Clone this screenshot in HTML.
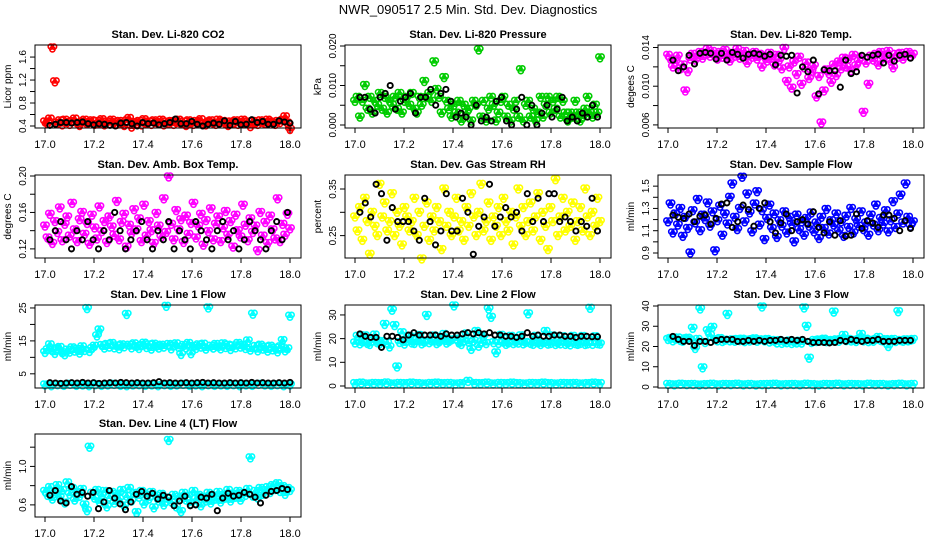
<!DOCTYPE html>
<html><head><meta charset="utf-8"><style>
body{margin:0;background:#fff;}
svg{display:block;font-family:"Liberation Sans",Arial,sans-serif;}
</style></head><body>
<svg id="chart" width="936" height="540" viewBox="0 0 936 540">
<rect x="0" y="0" width="936" height="540" fill="#fff"/>
<text x="468" y="14" text-anchor="middle" font-size="13">NWR_090517  2.5 Min. Std. Dev. Diagnostics</text>
</svg>
<script>
// ---- data ----
const xTicks = [17.0,17.2,17.4,17.6,17.8,18.0];
const xTickLabels = ["17.0","17.2","17.4","17.6","17.8","18.0"];

const co2Color = [0.47,0.44,0.52,1.76,1.17,0.45,0.49,0.42,0.50,0.46,0.43,0.48,0.52,0.45,0.41,0.47,0.50,0.44,0.46,0.49,0.43,0.48,0.45,0.51,0.42,0.47,0.44,0.50,0.46,0.43,0.48,0.45,0.41,0.49,0.53,0.38,0.46,0.44,0.48,0.42,0.51,0.45,0.47,0.43,0.49,0.46,0.44,0.50,0.42,0.47,0.45,0.48,0.43,0.46,0.50,0.44,0.47,0.41,0.49,0.45,0.43,0.48,0.46,0.51,0.44,0.42,0.47,0.49,0.45,0.43,0.50,0.46,0.48,0.44,0.41,0.47,0.45,0.49,0.43,0.46,0.50,0.44,0.47,0.39,0.48,0.45,0.43,0.49,0.46,0.44,0.50,0.47,0.45,0.43,0.48,0.46,0.50,0.56,0.45,0.34];
const co2Black = [0.41,0.43,0.46,0.46,0.45,0.46,0.47,0.44,0.42,0.44,0.43,0.41,0.40,0.45,0.46,0.44,0.40,0.46,0.44,0.45,0.42,0.44,0.46,0.52,0.44,0.44,0.48,0.43,0.40,0.43,0.45,0.43,0.49,0.41,0.48,0.42,0.43,0.51,0.46,0.48,0.43,0.43,0.49,0.47,0.45];

const presColor = [0.006,0.007,0.002,0.006,0.010,0.004,0.007,0.003,0.006,0.005,0.008,0.004,0.007,0.003,0.006,0.005,0.007,0.004,0.008,0.003,0.006,0.007,0.005,0.008,0.004,0.003,0.007,0.005,0.011,0.007,0.008,0.006,0.016,0.009,0.007,0.003,0.012,0.006,0.004,0.002,0.005,0.003,0.006,0.001,0.005,0.003,0.004,0.001,0.006,0.005,0.019,0.002,0.006,0.001,0.004,0.007,0.005,0.001,0.003,0.006,0.007,0.002,0.005,0.001,0.004,0.006,0.002,0.014,0.001,0.005,0.006,0.002,0.004,0.001,0.003,0.007,0.002,0.005,0.007,0.003,0.006,0.004,0.007,0.002,0.006,0.003,0.001,0.003,0.002,0.006,0.003,0.001,0.002,0.004,0.007,0.003,0.002,0.005,0.003,0.017];
const presBlack = [0.007,0.007,0.004,0.003,0.007,0.008,0.010,0.004,0.006,0.007,0.008,0.003,0.007,0.007,0.009,0.005,0.008,0.009,0.006,0.002,0.003,0.002,0.000,0.005,0.001,0.002,0.001,0.006,0.007,0.001,0.000,0.004,0.007,0.000,0.005,0.000,0.003,0.005,0.002,0.004,0.007,0.001,0.002,0.001,0.003,0.002,0.005,0.002];

const tempColor = [0.0132,0.0128,0.0120,0.0125,0.0131,0.0118,0.0122,0.0095,0.0115,0.0128,0.0133,0.0127,0.0130,0.0135,0.0129,0.0134,0.0138,0.0131,0.0136,0.0133,0.0128,0.0135,0.0130,0.0137,0.0132,0.0126,0.0134,0.0131,0.0138,0.0129,0.0133,0.0136,0.0124,0.0132,0.0130,0.0135,0.0128,0.0133,0.0120,0.0131,0.0126,0.0134,0.0129,0.0122,0.0132,0.0127,0.0118,0.0139,0.0105,0.0120,0.0098,0.0125,0.0112,0.0130,0.0102,0.0119,0.0124,0.0108,0.0115,0.0121,0.0089,0.0110,0.0062,0.0095,0.0117,0.0113,0.0104,0.0122,0.0111,0.0125,0.0118,0.0129,0.0120,0.0128,0.0116,0.0132,0.0121,0.0126,0.0130,0.0073,0.0124,0.0102,0.0131,0.0127,0.0133,0.0122,0.0135,0.0129,0.0132,0.0136,0.0126,0.0119,0.0133,0.0130,0.0134,0.0128,0.0132,0.0135,0.0131,0.0133];
const tempBlack = [0.0127,0.0116,0.0120,0.0132,0.0123,0.0134,0.0135,0.0134,0.0128,0.0134,0.0127,0.0135,0.0133,0.0129,0.0133,0.0134,0.0133,0.0131,0.0133,0.0122,0.0132,0.0131,0.0132,0.0093,0.0120,0.0115,0.0127,0.0092,0.0117,0.0116,0.0116,0.0099,0.0127,0.0113,0.0115,0.0132,0.0130,0.0132,0.0133,0.0124,0.0132,0.0126,0.0132,0.0133,0.0129];

const boxColor = [0.145,0.132,0.158,0.126,0.150,0.138,0.165,0.129,0.147,0.155,0.134,0.170,0.141,0.128,0.152,0.160,0.136,0.148,0.125,0.157,0.143,0.131,0.166,0.139,0.150,0.127,0.155,0.144,0.135,0.172,0.130,0.149,0.158,0.122,0.146,0.137,0.163,0.141,0.153,0.128,0.168,0.134,0.150,0.140,0.126,0.159,0.145,0.133,0.175,0.138,0.199,0.147,0.130,0.162,0.141,0.152,0.127,0.156,0.136,0.148,0.170,0.132,0.145,0.158,0.124,0.151,0.139,0.164,0.130,0.147,0.155,0.128,0.143,0.161,0.135,0.150,0.122,0.157,0.140,0.133,0.168,0.146,0.129,0.153,0.138,0.145,0.118,0.160,0.134,0.149,0.126,0.156,0.141,0.131,0.175,0.128,0.147,0.135,0.158,0.142];
const boxBlack = [0.13,0.14,0.15,0.13,0.12,0.14,0.13,0.15,0.13,0.12,0.14,0.13,0.16,0.14,0.12,0.13,0.14,0.15,0.13,0.12,0.14,0.13,0.15,0.12,0.14,0.13,0.12,0.15,0.14,0.13,0.12,0.14,0.15,0.13,0.14,0.12,0.13,0.15,0.14,0.13,0.12,0.14,0.15,0.13,0.16];

const rhColor = [0.29,0.26,0.31,0.24,0.33,0.28,0.21,0.30,0.27,0.25,0.36,0.29,0.32,0.26,0.28,0.34,0.25,0.30,0.27,0.23,0.31,0.29,0.26,0.28,0.33,0.25,0.30,0.20,0.27,0.32,0.24,0.29,0.26,0.31,0.28,0.22,0.35,0.27,0.30,0.25,0.29,0.33,0.26,0.28,0.24,0.31,0.27,0.34,0.29,0.25,0.30,0.36,0.26,0.28,0.32,0.24,0.29,0.27,0.31,0.25,0.33,0.28,0.26,0.30,0.23,0.29,0.35,0.27,0.31,0.25,0.28,0.32,0.26,0.29,0.34,0.24,0.30,0.27,0.22,0.31,0.28,0.37,0.25,0.29,0.33,0.26,0.30,0.27,0.32,0.24,0.28,0.31,0.26,0.35,0.29,0.25,0.30,0.27,0.33,0.28];
const rhBlack = [0.30,0.32,0.29,0.36,0.34,0.24,0.31,0.28,0.28,0.28,0.26,0.24,0.33,0.28,0.23,0.26,0.34,0.26,0.26,0.33,0.30,0.21,0.27,0.29,0.36,0.27,0.29,0.31,0.29,0.30,0.26,0.34,0.28,0.33,0.28,0.34,0.34,0.28,0.29,0.28,0.26,0.28,0.27,0.33,0.26];

const flowColor = [1.18,1.34,1.08,1.25,1.15,1.30,1.05,1.22,1.12,0.90,1.28,1.17,1.38,1.10,1.24,1.20,1.35,1.14,1.27,0.92,1.19,1.32,1.06,1.25,1.16,1.40,1.52,1.22,1.11,1.30,1.58,1.18,1.43,1.26,1.09,1.34,1.45,1.15,1.28,1.02,1.21,1.33,1.12,1.25,1.04,1.19,1.14,1.27,1.08,1.22,1.16,1.00,1.24,1.11,1.18,1.06,1.21,1.14,1.26,1.09,1.17,1.03,1.22,1.12,1.29,1.07,1.19,1.15,1.25,1.10,1.18,1.05,1.23,1.13,1.30,1.08,1.20,1.14,1.27,1.11,1.17,1.06,1.24,1.15,1.33,1.10,1.21,1.16,1.28,1.09,1.19,1.36,1.13,1.25,1.42,1.17,1.52,1.22,1.14,1.18];
const flowBlack = [1.24,1.22,1.21,1.25,1.18,1.23,1.24,1.16,1.21,1.34,1.35,1.13,1.18,1.33,1.29,1.14,1.30,1.35,1.18,1.08,1.17,1.25,1.10,1.18,1.20,1.16,1.27,1.13,1.08,1.18,1.06,1.19,1.05,1.06,1.25,1.12,1.19,1.17,1.13,1.24,1.24,1.21,1.10,1.19,1.12];

const line1Color = [11.5,12.3,13.8,12.0,11.2,12.6,13.0,11.4,10.8,12.2,11.6,12.9,11.9,12.4,11.3,13.2,12.1,24.8,11.8,12.7,13.4,16.5,18.3,13.6,12.8,13.9,13.1,14.2,12.9,13.5,12.6,13.8,13.2,23.0,13.7,12.9,14.1,13.3,12.7,13.6,14.3,13.0,13.8,12.5,14.0,13.4,12.8,13.7,13.1,25.5,13.9,12.6,13.5,14.1,13.0,10.9,13.6,12.9,14.2,11.1,13.3,12.7,13.8,13.1,14.0,12.5,25.0,13.4,12.8,13.9,13.2,12.6,14.1,13.0,13.7,12.4,13.5,12.9,14.2,13.1,13.6,12.7,15.0,12.2,23.1,13.3,12.0,13.7,12.5,13.1,11.9,13.4,12.3,12.8,11.7,13.2,15.1,12.0,12.6,22.5];
const line1Low = [1.6,1.4,1.7,1.5,1.8,1.5,1.6,1.4,1.7,1.5,1.6,1.8,1.5,1.4,1.6,1.7,1.5,1.6,1.4,1.7,1.5,1.6,1.8,1.5,1.6,1.4,1.7,1.5,1.6,1.5,1.7,1.4,1.6,1.5,1.8,1.6,1.5,1.7,1.4,1.6];
const line1Black = [2.3,2.2,2.1,2.2,2.3,2.2,2.4,2.2,2.3,2.1,2.2,2.3,2.2,2.4,2.3,2.2,2.3,2.2,2.2,2.3,2.6,2.2,2.3,2.2,2.2,2.3,2.2,2.3,2.4,2.2,2.3,2.2,2.2,2.3,2.2,2.3,2.2,2.4,2.2,2.3,2.2,2.2,2.3,2.2,2.4];

const line2Color = [18.2,21.0,17.8,18.6,21.2,18.0,17.5,19.0,21.5,18.3,17.9,18.8,26.0,18.1,16.5,32.0,25.5,8.0,18.4,22.5,17.7,18.9,21.0,18.2,18.0,19.2,21.3,17.8,18.5,29.8,18.3,19.0,21.1,17.9,18.6,19.4,21.8,18.1,18.8,19.5,33.8,19.8,18.2,17.5,19.1,22.0,18.4,15.5,19.0,23.0,16.8,18.6,21.0,17.9,32.5,29.0,18.3,14.0,18.0,21.4,18.5,17.6,18.2,21.0,17.9,18.6,18.1,21.2,17.8,18.4,30.5,18.0,17.6,21.0,18.2,17.5,18.3,23.0,17.7,18.0,21.1,17.5,18.2,17.8,20.8,17.6,18.1,17.4,21.0,17.9,17.6,18.0,20.9,17.5,17.8,32.8,17.6,20.8,17.9,17.7];
const line2Low = [1.0,1.2,0.9,1.1,1.0,1.3,0.9,1.1,1.0,1.2,1.0,0.9,1.1,1.2,1.0,1.1,0.9,1.0,2.0,1.1,1.0,1.2,0.9,1.1,1.0,1.2,1.0,0.9,1.1,1.0,1.2,1.0,0.9,1.1,1.0,1.1,0.9,1.0,1.2,1.0];
const line2Black = [22.0,21.0,20.5,20.5,16.3,21.0,21.0,20.5,19.5,21.5,22.5,21.5,21.5,21.5,21.5,21.0,22.0,21.5,21.5,22.0,22.5,22.0,22.5,22.0,22.5,21.5,21.5,21.0,21.0,20.5,21.0,22.5,21.0,21.5,21.0,21.0,21.5,21.5,21.0,21.0,20.5,21.0,21.0,20.8,20.8];

const line3Color = [23.5,24.0,22.8,23.6,24.2,23.0,22.6,23.8,24.1,23.2,29.0,19.0,23.5,38.5,9.5,22.0,27.8,25.5,29.5,23.4,22.8,23.9,22.5,23.1,35.8,22.8,23.3,22.6,23.5,22.9,23.6,22.4,23.2,22.7,23.4,23.8,22.6,23.3,39.5,22.8,23.5,22.2,23.0,22.6,21.8,22.9,21.6,22.4,21.9,22.7,21.5,22.3,21.8,22.6,21.7,39.0,30.0,14.2,22.0,23.0,22.5,23.2,22.8,23.6,22.4,23.0,22.7,37.0,23.3,22.6,23.4,25.5,22.9,23.5,22.7,23.1,22.5,23.4,26.0,22.8,23.6,22.4,23.1,22.6,23.5,24.5,23.0,22.7,23.4,20.0,22.9,23.5,22.5,37.2,23.0,22.6,23.3,22.8,23.1,23.5];
const line3Low = [1.3,1.1,1.4,1.2,1.3,1.0,1.2,1.4,1.1,1.3,1.2,1.4,1.1,1.3,1.0,1.2,1.3,1.4,1.1,1.2,1.3,1.1,1.4,1.2,1.0,1.3,1.2,1.4,1.1,1.3,1.2,1.1,1.4,1.2,1.3,1.0,1.2,1.4,1.1,1.3];
const line3Black = [25.0,23.5,22.5,22.5,20.5,22.5,22.5,22.0,23.0,23.5,23.5,23.5,22.5,22.5,23.0,22.5,23.0,22.5,23.0,23.0,23.5,23.0,23.5,23.0,23.5,22.5,22.0,22.0,22.0,21.8,22.0,23.0,22.5,23.5,23.0,22.5,23.0,23.0,23.5,22.5,22.5,22.5,23.0,23.0,23.0];

const line4Color = [0.74,0.70,0.78,0.66,0.72,0.80,0.68,0.75,0.62,0.83,0.71,0.77,0.65,0.73,0.69,0.76,0.60,0.54,1.20,0.72,0.67,0.75,0.63,0.70,0.74,0.58,0.68,0.73,0.62,0.71,0.66,0.75,0.59,0.69,0.77,0.64,0.72,0.52,0.68,0.74,0.61,0.70,0.66,0.73,0.57,0.69,0.64,0.71,0.60,0.67,1.27,0.63,0.70,0.58,0.68,0.53,0.72,0.65,0.69,0.61,0.74,0.66,0.70,0.59,0.68,0.64,0.72,0.62,0.69,0.66,0.73,0.63,0.70,0.67,0.75,0.64,0.71,0.68,0.74,0.65,0.72,0.70,0.76,1.09,0.69,0.74,0.67,0.77,0.71,0.75,0.78,0.73,0.80,0.76,0.82,0.74,0.79,0.71,0.77,0.75];
const line4Black = [0.70,0.75,0.64,0.62,0.79,0.71,0.73,0.69,0.73,0.56,0.63,0.75,0.67,0.61,0.55,0.63,0.71,0.74,0.69,0.72,0.66,0.70,0.68,0.59,0.64,0.69,0.59,0.60,0.68,0.67,0.71,0.54,0.67,0.72,0.69,0.70,0.73,0.71,0.68,0.62,0.70,0.74,0.75,0.77,0.76];

// ---- layout ----
const colX0 = [45,355,668];
const rowTop = [45,175,305,434];
const UNIT = 245, BOXH = 83;
const panels = [
 {id:'co2',col:0,row:0,title:'Stan. Dev. Li-820 CO2',ylab:'Licor ppm',lo:0.365,hi:1.81,ticks:[0.4,0.6,0.8,1.0,1.2,1.4,1.6],labels:[[0.4,'0.4'],[0.8,'0.8'],[1.2,'1.2'],[1.6,'1.6']],series:[{v:co2Color,c:'#ff0000',x0:17.0,x1:18.0,dense:1},{v:co2Black,c:'#000',x0:17.02,x1:18.0}]},
 {id:'pressure',col:1,row:0,title:'Stan. Dev. Li-820 Pressure',ylab:'kPa',lo:-0.00076,hi:0.02025,ticks:[0,0.005,0.01,0.015,0.02],labels:[[0,'0.000'],[0.01,'0.010'],[0.02,'0.020']],series:[{v:presColor,c:'#00cc00',x0:17.0,x1:18.0,dense:1},{v:presBlack,c:'#000',x0:17.02,x1:17.99}]},
 {id:'temp',col:2,row:0,title:'Stan. Dev. Li-820 Temp.',ylab:'degees C',lo:0.00568,hi:0.01426,ticks:[0.006,0.008,0.010,0.012,0.014],labels:[[0.006,'0.006'],[0.010,'0.010'],[0.014,'0.014']],series:[{v:tempColor,c:'#ff00ff',x0:17.0,x1:18.0,dense:1},{v:tempBlack,c:'#000',x0:17.02,x1:17.99}]},
 {id:'boxtemp',col:0,row:1,title:'Stan. Dev. Amb. Box Temp.',ylab:'degrees C',lo:0.11,hi:0.2011,ticks:[0.12,0.14,0.16,0.18,0.20],labels:[[0.12,'0.12'],[0.16,'0.16'],[0.20,'0.20']],series:[{v:boxColor,c:'#ff00ff',x0:17.0,x1:18.0,dense:1},{v:boxBlack,c:'#000',x0:17.02,x1:17.99}]},
 {id:'rh',col:1,row:1,title:'Stan. Dev. Gas Stream RH',ylab:'percent',lo:0.202,hi:0.380,ticks:[0.25,0.30,0.35],labels:[[0.25,'0.25'],[0.35,'0.35']],series:[{v:rhColor,c:'#ffff00',x0:17.0,x1:18.0,dense:1},{v:rhBlack,c:'#000',x0:17.02,x1:17.99}]},
 {id:'sampleflow',col:2,row:1,title:'Stan. Dev. Sample Flow',ylab:'ml/min',lo:0.855,hi:1.6,ticks:[0.9,1.0,1.1,1.2,1.3,1.4,1.5],labels:[[0.9,'0.9'],[1.1,'1.1'],[1.3,'1.3'],[1.5,'1.5']],series:[{v:flowColor,c:'#0000ff',x0:17.0,x1:18.0,dense:1},{v:flowBlack,c:'#000',x0:17.02,x1:17.99}]},
 {id:'line1',col:0,row:2,title:'Stan. Dev. Line 1 Flow',ylab:'ml/min',lo:0.69,hi:25.9,ticks:[5,10,15,20,25],labels:[[5,'5'],[15,'15'],[25,'25']],series:[{v:line1Color,c:'#00ffff',x0:17.0,x1:18.0,dense:1},{v:line1Low,c:'#00ffff',x0:17.0,x1:18.0,dense:1},{v:line1Black,c:'#000',x0:17.02,x1:18.0}]},
 {id:'line2',col:1,row:2,title:'Stan. Dev. Line 2 Flow',ylab:'ml/min',lo:-0.85,hi:34.2,ticks:[0,10,20,30],labels:[[0,'0'],[10,'10'],[20,'20'],[30,'30']],series:[{v:line2Color,c:'#00ffff',x0:17.0,x1:18.0,dense:1},{v:line2Low,c:'#00ffff',x0:17.0,x1:18.0,dense:1},{v:line2Black,c:'#000',x0:17.02,x1:17.99}]},
 {id:'line3',col:2,row:2,title:'Stan. Dev. Line 3 Flow',ylab:'ml/min',lo:-0.5,hi:40.5,ticks:[0,10,20,30,40],labels:[[0,'0'],[10,'10'],[20,'20'],[30,'30'],[40,'40']],series:[{v:line3Color,c:'#00ffff',x0:17.0,x1:18.0,dense:1},{v:line3Low,c:'#00ffff',x0:17.0,x1:18.0,dense:1},{v:line3Black,c:'#000',x0:17.02,x1:17.99}]},
 {id:'line4',col:0,row:3,title:'Stan. Dev. Line 4 (LT) Flow',ylab:'ml/min',lo:0.474,hi:1.337,ticks:[0.6,0.8,1.0,1.2],labels:[[0.6,'0.6'],[1.0,'1.0']],series:[{v:line4Color,c:'#00ffff',x0:17.0,x1:18.0,dense:1},{v:line4Black,c:'#000',x0:17.02,x1:17.99}]}
];

const NS='http://www.w3.org/2000/svg';
const svg=document.getElementById('chart');
function mk(tag,attrs,parent){const e=document.createElementNS(NS,tag);for(const k in attrs)e.setAttribute(k,attrs[k]);parent.appendChild(e);return e;}
// dense glyph: compact triangular cluster of circles per colored datum (mimics overplotted cloud)
const glyphDx=[-1.6,1.6,0], glyphDy=[-1.3,-1.3,1.4];

panels.forEach(p=>{
  const x0=colX0[p.col], top=rowTop[p.row], bot=top+BOXH;
  const left=x0-10, right=x0+256;
  const sx=v=>x0+(v-17)*UNIT;
  const sy=v=>bot-(v-p.lo)/(p.hi-p.lo)*BOXH;
  const g=mk('g',{},svg);
  
  
  const t=mk('text',{x:(left+right)/2,y:top-7,'text-anchor':'middle','font-size':'11','font-weight':'bold'},g);
  t.textContent=p.title;
  
  
  const pg=mk('g',{fill:'none','stroke-width':'1.6'},g);
  
  
  p.series.forEach((s,si)=>{
    const n=s.v.length;
    s.v.forEach((v,i)=>{
      const xv=s.x0+(s.x1-s.x0)*(n>1?i/(n-1):0);
      const cx=sx(xv), cy=sy(v);
      if(s.dense){
        const pt=mk('g',{stroke:s.c},pg);
        
        
        glyphDx.forEach((dx,k)=>{mk('circle',{cx:(cx+dx).toFixed(1),cy:(cy+glyphDy[k]).toFixed(1),r:'2.6'},pt);});
      } else {
        const c=mk('circle',{cx:cx.toFixed(1),cy:cy.toFixed(1),r:'2.6',stroke:s.c,'stroke-width':'1.9'},pg);
        
        
      }
    });
  });
  const box=mk('rect',{x:left,y:top,width:right-left,height:BOXH,fill:'none',stroke:'#000','stroke-width':'1'},g);
  
  
  const xa=mk('g',{},g);
  
  
  xTicks.forEach((v,i)=>{
    mk('line',{x1:sx(v),x2:sx(v),y1:bot,y2:bot+5,stroke:'#000'},xa);
    const tl=mk('text',{x:sx(v),y:bot+20,'text-anchor':'middle','font-size':'11'},xa);
    tl.textContent=xTickLabels[i];
    
    
  });
  const ya=mk('g',{},g);
  
  
  p.ticks.forEach(v=>{mk('line',{x1:left-5,x2:left,y1:sy(v),y2:sy(v),stroke:'#000'},ya);});
  p.labels.forEach(l=>{
    const yy=sy(l[0]), xx=left-9;
    const tl=mk('text',{x:xx,y:yy,'text-anchor':'middle','font-size':'10',transform:`rotate(-90 ${xx} ${yy})`},ya);
    tl.textContent=l[1];
    
    
  });
  const yl=mk('text',{x:left-24,y:(top+bot)/2,'text-anchor':'middle','font-size':'10',transform:`rotate(-90 ${left-24} ${(top+bot)/2})`},ya);
  yl.textContent=p.ylab;
  
  
});
</script>
</body></html>
